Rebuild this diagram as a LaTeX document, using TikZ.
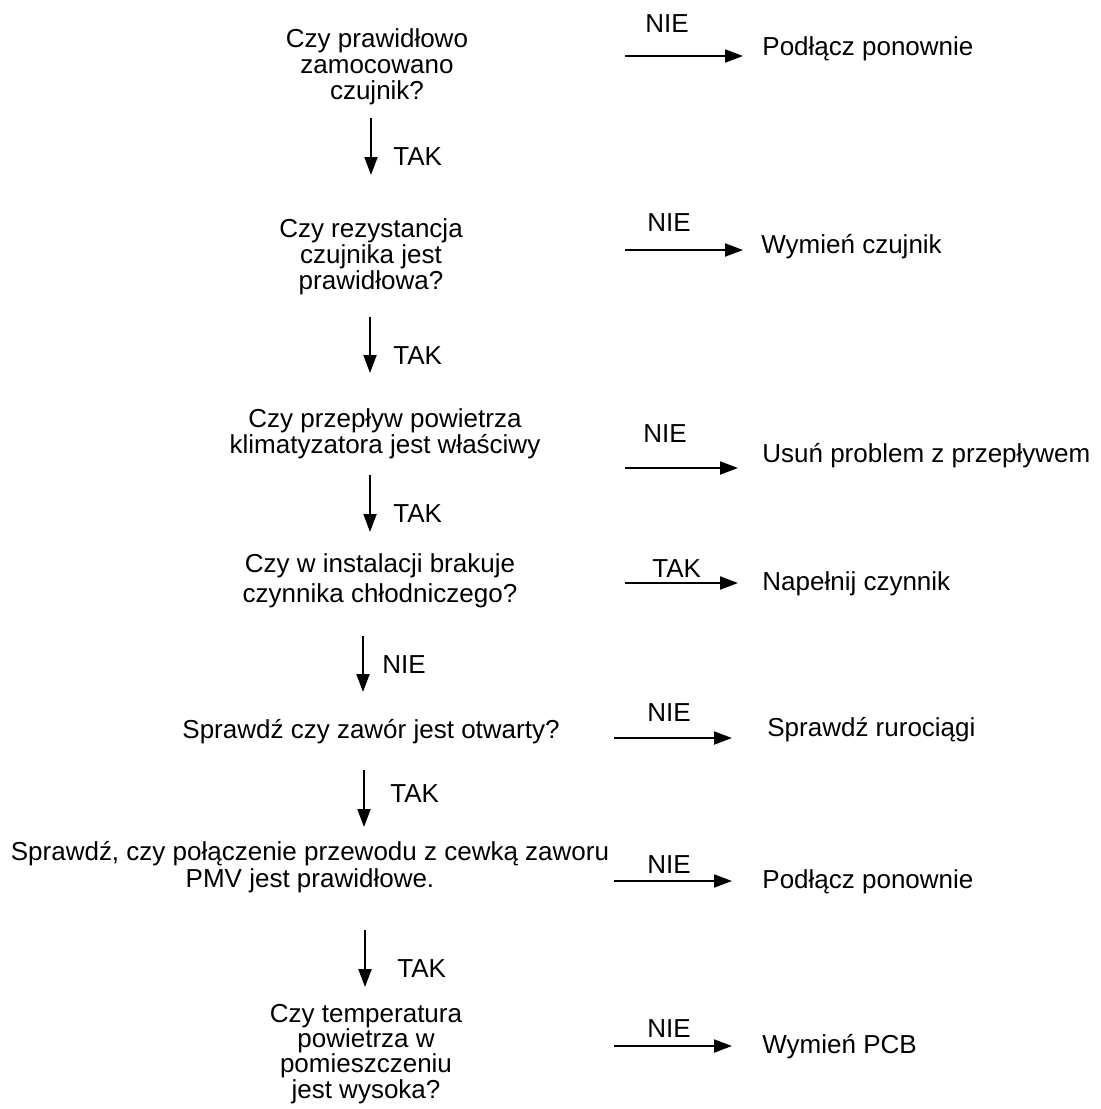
\documentclass[tikz,border=0pt]{standalone}
\usepackage{fontspec}
\setmainfont{Liberation Sans}
\usetikzlibrary{arrows.meta}

\begin{document}
\begin{tikzpicture}[x=0.5pt,y=-0.5pt,
    txt/.style={inner sep=0pt,font=\fontsize{13}{13}\selectfont,align=center,anchor=base},
    act/.style={txt,anchor=base west},
    flow/.style={line width=1pt,-{Triangle[length=9pt,width=6.5pt]}}]
    \useasboundingbox (0,0) rectangle (1101,1109);

    \node[txt] (q1) at (377,99) {Czy prawidłowo\\zamocowano\\czujnik?};
    \node[txt] (q2) at (371,289) {Czy rezystancja\\czujnika jest\\prawidłowa?};
    \node[txt] (q3) at (385,453) {Czy przepływ powietrza\\klimatyzatora jest właściwy};
    \node[txt] (q4) at (380,602) {Czy w instalacji brakuje\\[2pt]czynnika chłodniczego?};
    \node[txt] (q5) at (371,738) {Sprawdź czy zawór jest otwarty?};
    \node[txt] (q6) at (310,887) {Sprawdź, czy połączenie przewodu z cewką zaworu\\[0.5pt]PMV jest prawidłowe.};
    \node[txt] (q7) at (366,1098) {Czy temperatura\\[-0.4pt]powietrza w\\[-0.4pt]pomieszczeniu\\[-0.4pt]jest wysoka?};

    \node[act] (a1) at (762,55) {Podłącz ponownie};
    \node[act] (a2) at (761,253) {Wymień czujnik};
    \node[act] (a3) at (762,462) {Usuń problem z przepływem};
    \node[act] (a4) at (762,590) {Napełnij czynnik};
    \node[act] (a5) at (767,736) {Sprawdź rurociągi};
    \node[act] (a6) at (762,888) {Podłącz ponownie};
    \node[act] (a7) at (762,1053) {Wymień PCB};

    \coordinate (v1) at (371,118); \coordinate (w1) at (371,175);
    \coordinate (v2) at (370,317); \coordinate (w2) at (370,373);
    \coordinate (v3) at (370,475); \coordinate (w3) at (370,532);
    \coordinate (v4) at (363,636); \coordinate (w4) at (363,692);
    \coordinate (v5) at (364,770); \coordinate (w5) at (364,827);
    \coordinate (v6) at (365,930); \coordinate (w6) at (365,987);
    \draw[flow] (v1) -- (w1);
    \draw[flow] (v2) -- (w2);
    \draw[flow] (v3) -- (w3);
    \draw[flow] (v4) -- (w4);
    \draw[flow] (v5) -- (w5);
    \draw[flow] (v6) -- (w6);
    \node[act] (d1) at (393,165) {TAK};
    \node[act] (d2) at (393,364) {TAK};
    \node[act] (d3) at (393,522) {TAK};
    \node[act] (d4) at (382,673) {NIE};
    \node[act] (d5) at (390,802) {TAK};
    \node[act] (d6) at (397,977) {TAK};

    \coordinate (h1) at (625,56);   \coordinate (e1) at (743,56);
    \coordinate (h2) at (625,250);  \coordinate (e2) at (743,250);
    \coordinate (h3) at (625,468);  \coordinate (e3) at (738,468);
    \coordinate (h4) at (625,583);  \coordinate (e4) at (738,583);
    \coordinate (h5) at (614,738);  \coordinate (e5) at (732,738);
    \coordinate (h6) at (614,881);  \coordinate (e6) at (732,881);
    \coordinate (h7) at (614,1046); \coordinate (e7) at (732,1046);
    \draw[flow] (h1) -- (e1);
    \draw[flow] (h2) -- (e2);
    \draw[flow] (h3) -- (e3);
    \draw[flow] (h4) -- (e4);
    \draw[flow] (h5) -- (e5);
    \draw[flow] (h6) -- (e6);
    \draw[flow] (h7) -- (e7);
    \node[act] (n1) at (645,32) {NIE};
    \node[act] (n2) at (647,231) {NIE};
    \node[act] (n3) at (643,442) {NIE};
    \node[act] (n4) at (652,577) {TAK};
    \node[act] (n5) at (647,721) {NIE};
    \node[act] (n6) at (647,873) {NIE};
    \node[act] (n7) at (647,1037) {NIE};
\end{tikzpicture}
\end{document}
